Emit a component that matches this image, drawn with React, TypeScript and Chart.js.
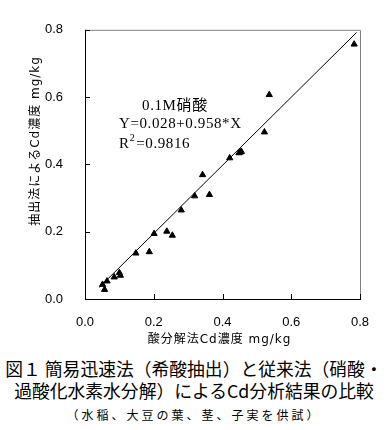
import React, { useEffect, useRef } from "react";
import { Chart, registerables } from "chart.js";

Chart.register(...registerables);

// ---- data ----
const acidDigestX = [0.051, 0.057, 0.064, 0.085, 0.100, 0.103, 0.148, 0.187, 0.201, 0.238, 0.254, 0.280, 0.319, 0.342, 0.362, 0.421, 0.448, 0.452, 0.455, 0.522, 0.536, 0.783];
const extractionY = [0.043, 0.028, 0.053, 0.065, 0.078, 0.070, 0.136, 0.140, 0.194, 0.201, 0.189, 0.264, 0.306, 0.369, 0.310, 0.419, 0.434, 0.436, 0.438, 0.496, 0.607, 0.757];
const fitLineX = [0.042, 0.790];
const fitLineY = [0.035, 0.792];
const axisTickValues = [0, 0.2, 0.4, 0.6, 0.8];
const xAxisTitle = "酸分解法Cd濃度 mg/kg";
const yAxisTitle = "抽出法によるCd濃度 mg/kg";
const noteTitle = "0.1M硝酸";
const noteEquation = "Y=0.028+0.958*X";
const noteR2Value = "=0.9816";
const captionLines = [
  "図１ 簡易迅速法（希酸抽出）と従来法（硝酸・",
  "過酸化水素水分解）によるCd分析結果の比較",
];
const captionNote = "（水稲、大豆の葉、茎、子実を供試）";

const CANVAS_W = 388;
const CANVAS_H = 352;
const AREA_BOTTOM = 299;

const tickFont = { family: "'Liberation Sans Narrow', 'Liberation Sans', sans-serif", size: 13 };
const cjkFont = "'DejaVu Sans', 'Noto Sans CJK JP', sans-serif";
const noteFont = "'Liberation Serif', 'Noto Sans CJK JP', serif";

const decorPlugin = {
  id: "decor",
  afterDraw(chart: any) {
    const { ctx, chartArea: a, scales } = chart;
    const xs = scales.x;
    const ys = scales.y;
    ctx.save();
    ctx.lineWidth = 1;
    // top / right frame (gray)
    ctx.strokeStyle = "#808080";
    ctx.beginPath();
    ctx.moveTo(a.left, a.top + 0.5);
    ctx.lineTo(a.right + 0.5, a.top + 0.5);
    ctx.lineTo(a.right + 0.5, a.bottom);
    ctx.stroke();
    // left / bottom axes (black) with inward ticks
    ctx.strokeStyle = "#000";
    ctx.beginPath();
    ctx.moveTo(a.left + 0.5, a.top);
    ctx.lineTo(a.left + 0.5, a.bottom + 0.5);
    ctx.lineTo(a.right + 1, a.bottom + 0.5);
    axisTickValues.forEach((v) => {
      const py = Math.round(ys.getPixelForValue(v)) + 0.5;
      ctx.moveTo(a.left, py);
      ctx.lineTo(a.left + 5, py);
      const px = Math.round(xs.getPixelForValue(v)) + 0.5;
      ctx.moveTo(px, a.bottom);
      ctx.lineTo(px, a.bottom - 5);
    });
    ctx.stroke();

    ctx.fillStyle = "#000";
    // axis titles
    ctx.font = `12px ${cjkFont}`;
    ctx.textAlign = "center";
    ctx.textBaseline = "middle";
    (ctx as any).letterSpacing = "1px";
    ctx.fillText(xAxisTitle, (a.left + a.right) / 2 - 3, 340);
    ctx.save();
    ctx.translate(36, 141);
    ctx.rotate(-Math.PI / 2);
    ctx.fillText(yAxisTitle, 0, 0);
    ctx.restore();

    // regression note
    (ctx as any).letterSpacing = "0.6px";
    ctx.textAlign = "left";
    ctx.font = `15px ${noteFont}`;
    const nx1 = xs.getPixelForValue(0.166);
    const nx2 = xs.getPixelForValue(0.099);
    ctx.fillText(noteTitle, nx1, ys.getPixelForValue(0.574));
    ctx.fillText(noteEquation, nx2, ys.getPixelForValue(0.519));
    const ry = ys.getPixelForValue(0.461);
    ctx.fillText("R", nx2, ry);
    const rw = ctx.measureText("R").width;
    ctx.font = `10px ${noteFont}`;
    ctx.fillText("2", nx2 + rw, ry - 5);
    const sw = ctx.measureText("2").width;
    ctx.font = `15px ${noteFont}`;
    ctx.fillText(noteR2Value, nx2 + rw + sw + 1, ry);
    ctx.restore();
  },
};

export default function App() {
  const canvasRef = useRef<HTMLCanvasElement | null>(null);

  useEffect(() => {
    const canvas = canvasRef.current;
    if (!canvas) return;
    const points = acidDigestX.map((x, i) => ({ x, y: extractionY[i] }));
    const fit = fitLineX.map((x, i) => ({ x, y: fitLineY[i] }));
    const chart = new Chart(canvas, {
      type: "scatter",
      data: {
        datasets: [
          {
            data: points,
            pointStyle: "triangle",
            pointRadius: 3.6,
            backgroundColor: "#000",
            borderColor: "#000",
            borderWidth: 1,
          },
          {
            type: "line",
            data: fit,
            showLine: true,
            pointRadius: 0,
            borderColor: "#000",
            borderWidth: 1,
            fill: false,
          } as any,
        ],
      },
      options: {
        responsive: false,
        animation: false,
        devicePixelRatio: 1,
        layout: { padding: { top: 10, right: 28, left: 0, bottom: 0 } },
        plugins: { legend: { display: false }, tooltip: { enabled: false }, title: { display: false } },
        scales: {
          x: {
            type: "linear",
            min: 0,
            max: 0.8,
            afterBuildTicks: (s: any) => {
              s.ticks = axisTickValues.map((v) => ({ value: v }));
            },
            afterFit: (s: any) => {
              s.height = CANVAS_H - AREA_BOTTOM;
            },
            ticks: {
              callback: (v: any) => Number(v).toFixed(1),
              padding: 16,
              font: tickFont,
              color: "#000",
              maxRotation: 0,
              autoSkip: false,
            },
            grid: { display: false, drawTicks: false },
            border: { display: false },
          },
          y: {
            type: "linear",
            min: 0,
            max: 0.8,
            afterBuildTicks: (s: any) => {
              s.ticks = axisTickValues.map((v) => ({ value: v }));
            },
            afterFit: (s: any) => {
              s.width = 85;
            },
            ticks: {
              callback: (v: any) => Number(v).toFixed(1),
              padding: 22,
              font: tickFont,
              color: "#000",
              autoSkip: false,
            },
            grid: { display: false, drawTicks: false },
            border: { display: false },
          },
        },
      },
      plugins: [decorPlugin],
    } as any);
    return () => chart.destroy();
  }, []);

  return (
    <div style={{ position: "absolute", left: 0, top: 0, width: CANVAS_W, height: 430, background: "#fff" }}>
      <canvas ref={canvasRef} width={CANVAS_W} height={CANVAS_H} style={{ display: "block", width: CANVAS_W, height: CANVAS_H }} />
      {captionLines.map((t, i) => (
        <div
          key={i}
          style={{
            position: "absolute",
            left: 0,
            width: CANVAS_W,
            top: 357 + i * 22,
            height: 22,
            lineHeight: "22px",
            textAlign: "center",
            fontFamily: "'Noto Sans CJK JP', sans-serif",
            fontSize: "17.8px",
            color: "#000",
            whiteSpace: "pre",
          }}
        >
          {t}
        </div>
      ))}
      <div
        style={{
          position: "absolute",
          left: 0,
          width: CANVAS_W,
          top: 407,
          height: 16,
          lineHeight: "16px",
          textAlign: "center",
          fontFamily: "'Noto Sans CJK JP', sans-serif",
          fontSize: "12px",
          letterSpacing: "3px",
          color: "#000",
          whiteSpace: "pre",
        }}
      >
        {captionNote}
      </div>
    </div>
  );
}
